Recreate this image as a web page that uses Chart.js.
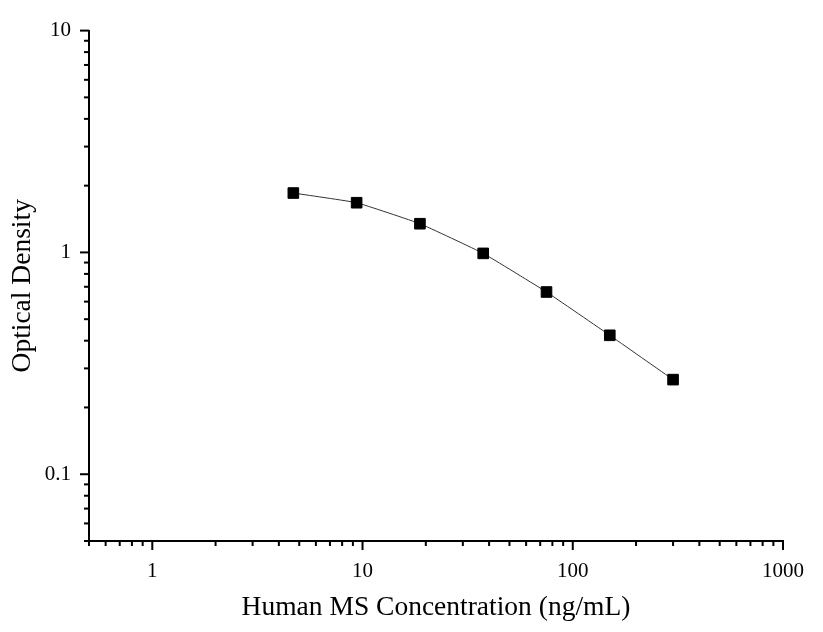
<!DOCTYPE html>
<html>
<head>
<meta charset="utf-8">
<script src="https://cdn.jsdelivr.net/npm/chart.js@4.4.0/dist/chart.umd.min.js"></script>
<style>
  html, body { margin: 0; padding: 0; background: #fff; }
  #wrap { width: 823px; height: 632px; position: relative; }
</style>
</head>
<body>
<div id="wrap"><canvas id="c" width="823" height="632"></canvas></div>
<script>
// Data
const concentrations = [4.6875, 9.375, 18.75, 37.5, 75, 150, 300];
const opticalDensity = [1.852, 1.675, 1.347, 0.990, 0.663, 0.423, 0.267];

// Axes
const xRange = [0.5, 1000];
const yRange = [0.05, 10];
const xMajorTicks = [1, 10, 100, 1000];
const xTickLabels = ['1', '10', '100', '1000'];
const yMajorTicks = [0.1, 1, 10];
const yTickLabels = ['0.1', '1', '10'];
const minorMultipliers = [2, 3, 4, 5, 6, 7, 8, 9];
const xDecades = [0.1, 1, 10, 100];
const yDecades = [0.01, 0.1, 1];

const xTitle = 'Human MS Concentration (ng/mL)';
const yTitle = 'Optical Density';

function buildTicks(decades, majors, lo, hi) {
  const vals = [];
  decades.forEach(d => {
    minorMultipliers.forEach(m => {
      const v = +(d * m).toPrecision(6);
      if (v >= lo - 1e-12 && v <= hi + 1e-12) vals.push(v);
    });
  });
  majors.forEach(v => { if (v >= lo && v <= hi) vals.push(v); });
  vals.sort((a, b) => a - b);
  return vals.map(v => ({ value: v, major: majors.some(m => Math.abs(m - v) < 1e-9) }));
}

const FONT = "'Liberation Serif', 'Times New Roman', serif";

const tickPlugin = {
  id: 'outTicks',
  afterDraw(chart) {
    const ctx = chart.ctx;
    ctx.save();
    ctx.strokeStyle = '#000';
    ctx.lineWidth = 2;
    const xs = chart.scales.x, ys = chart.scales.y;
    const bottom = chart.chartArea.bottom, left = chart.chartArea.left;
    xs.ticks.forEach(t => {
      const px = xs.getPixelForValue(t.value);
      const len = t.major ? 9 : 5;
      ctx.beginPath();
      ctx.moveTo(px, bottom);
      ctx.lineTo(px, bottom + len);
      ctx.stroke();
    });
    ys.ticks.forEach(t => {
      const py = ys.getPixelForValue(t.value);
      const len = t.major ? 9 : 5;
      ctx.beginPath();
      ctx.moveTo(left, py);
      ctx.lineTo(left - len, py);
      ctx.stroke();
    });
    ctx.restore();
  }
};

new Chart(document.getElementById('c'), {
  type: 'line',
  data: {
    datasets: [{
      data: concentrations.map((x, i) => ({ x: x, y: opticalDensity[i] })),
      borderColor: '#333',
      borderWidth: 1,
      backgroundColor: '#000',
      pointStyle: 'rect',
      pointRadius: 7.5,
      pointBorderWidth: 1,
      pointBorderColor: '#000',
      pointBackgroundColor: '#000',
      tension: 0.1,
      fill: false
    }]
  },
  options: {
    responsive: false,
    animation: false,
    devicePixelRatio: 1,
    layout: { padding: { left: 0, right: 40, top: 30, bottom: 0 } },
    plugins: { legend: { display: false }, tooltip: { enabled: false } },
    scales: {
      x: {
        type: 'logarithmic',
        position: 'bottom',
        min: xRange[0],
        max: xRange[1],
        afterBuildTicks: s => { s.ticks = buildTicks(xDecades, xMajorTicks, xRange[0], xRange[1]); },
        afterFit: s => { s.height = 91; },
        grid: { display: false, drawTicks: false },
        border: { display: true, color: '#000', width: 2 },
        ticks: {
          autoSkip: false,
          maxRotation: 0,
          padding: 18,
          color: '#000',
          font: { family: FONT, size: 21 },
          callback: function (v) {
            const i = xMajorTicks.findIndex(m => Math.abs(m - v) < 1e-9);
            return i >= 0 ? xTickLabels[i] : '';
          }
        },
        title: {
          display: true,
          text: xTitle,
          color: '#000',
          font: { family: FONT, size: 27.5 },
          padding: { top: 0, bottom: 7.5 }
        }
      },
      y: {
        type: 'logarithmic',
        position: 'left',
        min: yRange[0],
        max: yRange[1],
        afterBuildTicks: s => { s.ticks = buildTicks(yDecades, yMajorTicks, yRange[0], yRange[1]); },
        afterFit: s => { s.width = 89; },
        grid: { display: false, drawTicks: false },
        border: { display: true, color: '#000', width: 2 },
        ticks: {
          autoSkip: false,
          padding: 18,
          color: '#000',
          font: { family: FONT, size: 21 },
          callback: function (v) {
            const i = yMajorTicks.findIndex(m => Math.abs(m - v) < 1e-9);
            return i >= 0 ? yTickLabels[i] : '';
          }
        },
        title: {
          display: true,
          text: yTitle,
          color: '#000',
          font: { family: FONT, size: 27.5 },
          padding: { top: 6.5, bottom: 0 }
        }
      }
    }
  },
  plugins: [tickPlugin]
});
</script>
</body>
</html>
